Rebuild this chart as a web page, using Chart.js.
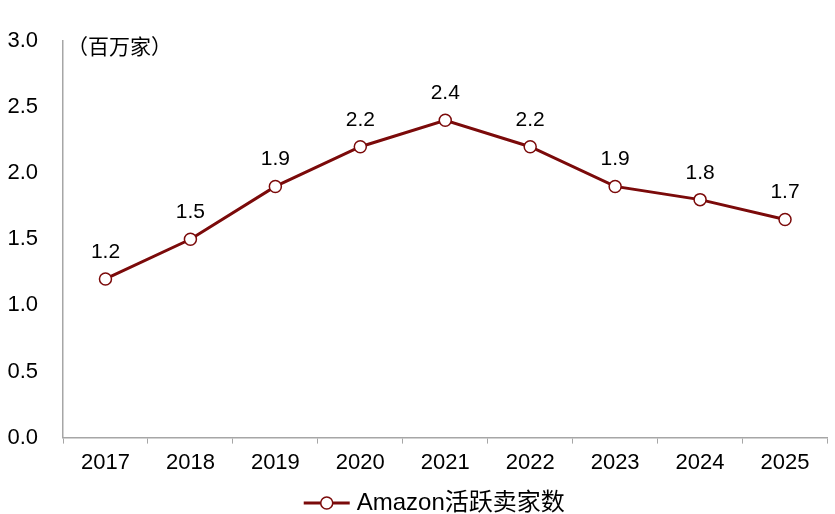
<!DOCTYPE html>
<html>
<head>
<meta charset="utf-8">
<script src="https://cdn.jsdelivr.net/npm/chart.js@4/dist/chart.umd.min.js"></script>
<style>
  html, body { margin: 0; padding: 0; background: #fff; }
  #wrap { width: 835px; height: 514px; }
</style>
</head>
<body>
<div id="wrap"><canvas id="sellersChart" width="835" height="514"></canvas></div>
<script>
const years = ['2017', '2018', '2019', '2020', '2021', '2022', '2023', '2024', '2025'];
const activeSellers = [1.2, 1.5, 1.9, 2.2, 2.4, 2.2, 1.9, 1.8, 1.65];
const valueLabels = ['1.2', '1.5', '1.9', '2.2', '2.4', '2.2', '1.9', '1.8', '1.7'];
const yTicks = [0, 0.5, 1.0, 1.5, 2.0, 2.5, 3.0];
const seriesName = 'Amazon活跃卖家数';
const unitLabel = '（百万家）';

const lineColor = '#7b0a0a';
const axisColor = '#a6a6a6';
const fontFamily = '"Liberation Sans", Arial, "Noto Sans CJK SC", sans-serif';

const valueLabelPlugin = {
    id: 'valueLabels',
    afterDatasetsDraw(chart) {
        const ctx = chart.ctx;
        const meta = chart.getDatasetMeta(0);
        ctx.save();
        ctx.font = '21px ' + fontFamily;
        ctx.fillStyle = '#000';
        ctx.textAlign = 'center';
        ctx.textBaseline = 'alphabetic';
        meta.data.forEach((pt, i) => {
            ctx.fillText(valueLabels[i], pt.x, pt.y - 21);
        });
        // unit label
        ctx.textAlign = 'left';
        ctx.textBaseline = 'middle';
        ctx.fillText(unitLabel, chart.chartArea.left + 4, chart.chartArea.top + 7);
        ctx.restore();
    }
};

// legend at the bottom: line with open circle, then the series name
const bottomLegendPlugin = {
    id: 'bottomLegend',
    afterDraw(chart) {
        const ctx = chart.ctx;
        const area = chart.chartArea;
        const y = 503;
        ctx.save();
        ctx.font = '24px ' + fontFamily;
        const textW = ctx.measureText(seriesName).width;
        const markW = 46, gap = 7;
        const total = markW + gap + textW;
        const x0 = (area.left + area.right) / 2 - 11 - total / 2;
        ctx.strokeStyle = lineColor;
        ctx.lineWidth = 3;
        ctx.beginPath();
        ctx.moveTo(x0, y);
        ctx.lineTo(x0 + markW, y);
        ctx.stroke();
        ctx.beginPath();
        ctx.arc(x0 + markW / 2, y, 6, 0, Math.PI * 2);
        ctx.fillStyle = '#fff';
        ctx.fill();
        ctx.lineWidth = 1.5;
        ctx.stroke();
        ctx.fillStyle = '#000';
        ctx.textAlign = 'left';
        ctx.textBaseline = 'middle';
        ctx.fillText(seriesName, x0 + markW + gap, y);
        ctx.restore();
    }
};

const ctx = document.getElementById('sellersChart').getContext('2d');
const sellersChart = new Chart(ctx, {
    type: 'line',
    data: {
        labels: years,
        datasets: [{
            label: seriesName,
            data: activeSellers,
            borderColor: lineColor,
            borderWidth: 3,
            pointRadius: 6,
            pointBorderWidth: 1.5,
            pointBackgroundColor: '#fff',
            pointBorderColor: lineColor,
            pointStyle: 'circle',
            tension: 0
        }]
    },
    options: {
        responsive: false,
        animation: false,
        devicePixelRatio: 1,
        layout: {
            padding: { top: 41, right: 7, left: 0, bottom: 32 }
        },
        plugins: {
            tooltip: { enabled: false },
            legend: { display: false }
        },
        scales: {
            x: {
                offset: true,
                grid: {
                    offset: true,
                    display: true,
                    drawOnChartArea: false,
                    drawTicks: true,
                    tickLength: 6,
                    color: axisColor
                },
                border: { display: true, color: axisColor, width: 1.5 },
                ticks: {
                    color: '#000',
                    font: { family: fontFamily, size: 22 },
                    padding: 6,
                    maxRotation: 0
                }
            },
            y: {
                min: 0,
                max: 3,
                afterBuildTicks(scale) {
                    scale.ticks = yTicks.map(v => ({ value: v }));
                },
                afterFit(scale) {
                    scale.width = 63;
                },
                grid: { display: false },
                border: { display: true, color: axisColor, width: 1.5 },
                ticks: {
                    color: '#000',
                    font: { family: fontFamily, size: 22 },
                    padding: 17,
                    callback: v => v.toFixed(1)
                }
            }
        }
    },
    plugins: [valueLabelPlugin, bottomLegendPlugin]
});
</script>
</body>
</html>
